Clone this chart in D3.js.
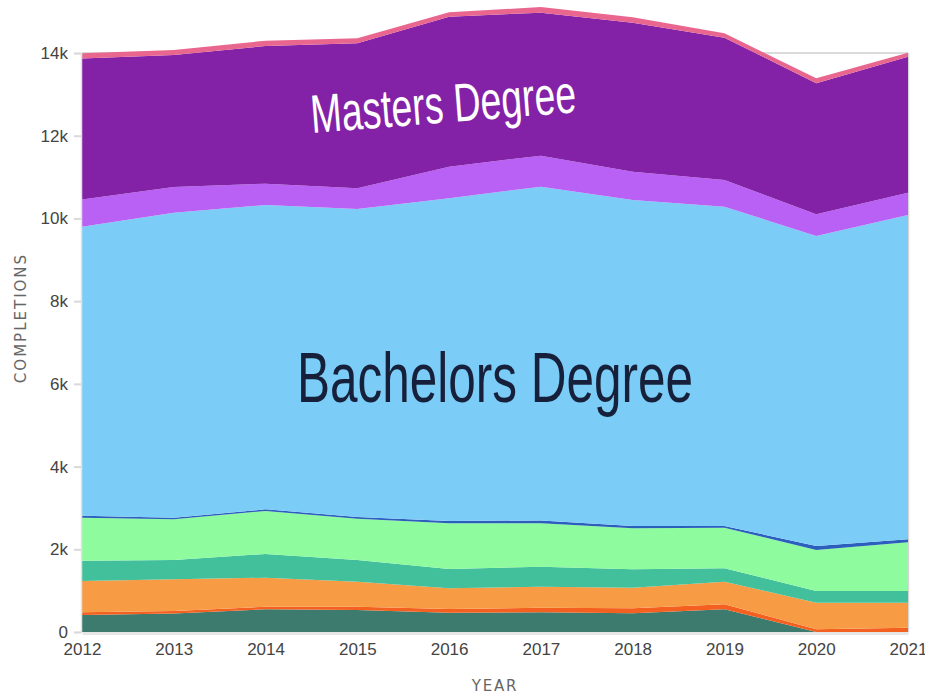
<!DOCTYPE html>
<html>
<head>
<meta charset="utf-8">
<script src="https://cdn.jsdelivr.net/npm/d3@7"></script>
<style>
  html, body { margin: 0; padding: 0; background: #fff; }
  svg { display: block; }
</style>
</head>
<body>
<svg id="chart" width="925" height="694"></svg>
<script>
const years = [2012, 2013, 2014, 2015, 2016, 2017, 2018, 2019, 2020, 2021];
const seriesNames = [
  "Certificate < 1 Year",
  "Certificate 1-2 Years",
  "Associates Degree",
  "Certificate 2-4 Years",
  "Postbaccalaureate Certificate",
  "Doctors Degree (Other)",
  "Bachelors Degree",
  "Post-masters Certificate",
  "Masters Degree",
  "Doctors Degree (Research)"
];
const certUnder1 =   [410, 450, 549, 532, 467, 475, 451, 549, 0, 0];
const cert1to2 =     [65, 58, 63, 80, 89, 113, 122, 120, 64, 105];
const associates =   [760, 766, 701, 605, 500, 508, 499, 548, 645, 604];
const cert2to4 =     [490, 467, 573, 524, 467, 484, 443, 323, 282, 282];
const postbacc =     [1040, 984, 1040, 999, 1105, 1048, 992, 983, 992, 1178];
const doctorOther =  [45, 40, 40, 40, 56, 70, 56, 40, 97, 72];
const bachelors =    [6990, 7375, 7359, 7448, 7802, 8070, 7883, 7722, 7495, 7842];
const postMasters =  [660, 620, 516, 500, 766, 750, 685, 645, 525, 540];
const masters =      [3410, 3190, 3330, 3506, 3626, 3458, 3602, 3441, 3167, 3288];
const doctorRes =    [125, 120, 127, 121, 105, 135, 130, 104, 121, 97];
const yTicks = [0, 2000, 4000, 6000, 8000, 10000, 12000, 14000];
const yTickLabels = ["0", "2k", "4k", "6k", "8k", "10k", "12k", "14k"];
const colors = ["#3e7b6f", "#f4601f", "#f79c45", "#42c09b", "#8efb9f",
                "#2b5fbe", "#7bcdf8", "#b861f4", "#8322a7", "#e9668f"];

const seriesValues = [certUnder1, cert1to2, associates, cert2to4, postbacc,
                      doctorOther, bachelors, postMasters, masters, doctorRes];

const table = years.map((yr, i) => {
  const row = { year: yr };
  seriesNames.forEach((n, j) => { row[n] = seriesValues[j][i]; });
  return row;
});

const svg = d3.select("#chart");
const margin = { left: 82, right: 17, top: 53, bottom: 62 };
const W = 925, H = 694;
const x = d3.scaleLinear().domain([2012, 2021]).range([margin.left, W - margin.right]);
const y = d3.scaleLinear().domain([0, 14000]).range([H - margin.bottom, margin.top]);

// frame lines
svg.append("line").attr("x1", x(2012)).attr("x2", x(2021)).attr("y1", y(14000)).attr("y2", y(14000))
  .attr("stroke", "#cfcfcf").attr("stroke-width", 1.5);
svg.append("line").attr("x1", x(2021) + 0.5).attr("x2", x(2021) + 0.5).attr("y1", y(14000)).attr("y2", y(0))
  .attr("stroke", "#d6d6d6").attr("stroke-width", 1.5);

const stack = d3.stack().keys(seriesNames);
const layers = stack(table);
const area = d3.area()
  .x(d => x(d.data.year))
  .y0(d => y(d[0]))
  .y1(d => y(d[1]))
  .curve(d3.curveLinear);

svg.append("g").selectAll("path").data(layers).join("path")
  .attr("d", area)
  .attr("fill", (d, i) => colors[i]);

// y axis
const yAxis = d3.axisLeft(y).tickValues(yTicks)
  .tickFormat((d, i) => yTickLabels[i]).tickSize(7).tickPadding(6);
const gy = svg.append("g").attr("transform", `translate(${margin.left - 1},0)`).call(yAxis);
gy.select(".domain").attr("stroke", "#e2e2e2").attr("stroke-width", 1.5);
gy.selectAll(".tick line").attr("stroke", "#d9d9d9").attr("stroke-width", 2);
gy.selectAll(".tick text").attr("fill", "#444").style("font-family", "'Liberation Sans', Arial, sans-serif")
  .style("font-size", "17px");

// x axis
const xAxis = d3.axisBottom(x).tickValues(years).tickFormat(d3.format("d")).tickSize(0).tickPadding(10);
const gx = svg.append("g").attr("transform", `translate(0,${y(0) + 1})`).call(xAxis);
gx.select(".domain").attr("stroke", "#e6e6e6").attr("stroke-width", 3);
gx.selectAll(".tick text").attr("fill", "#444").style("font-family", "'Liberation Sans', Arial, sans-serif")
  .style("font-size", "17px");

// axis titles
svg.append("text").attr("x", 495).attr("y", 691).attr("text-anchor", "middle")
  .style("font-family", "'DejaVu Sans', 'Liberation Sans', sans-serif").style("font-size", "15px")
  .style("letter-spacing", "1.8px").attr("fill", "#666").text("YEAR");
svg.append("text").attr("transform", "translate(26,318) rotate(-90)").attr("text-anchor", "middle")
  .style("font-family", "'DejaVu Sans', 'Liberation Sans', sans-serif").style("font-size", "15px")
  .style("letter-spacing", "2px").attr("fill", "#666").text("COMPLETIONS");

// in-chart labels
svg.append("text").attr("transform", "translate(312,133) rotate(-4.5)")
  .attr("textLength", 266).attr("lengthAdjust", "spacingAndGlyphs")
  .style("font-family", "'Liberation Sans Narrow', 'Liberation Sans', sans-serif").style("font-size", "54px")
  .attr("fill", "#ffffff").text("Masters Degree");
svg.append("text").attr("x", 297).attr("y", 402)
  .attr("textLength", 396).attr("lengthAdjust", "spacingAndGlyphs")
  .style("font-family", "'Liberation Sans Narrow', 'Liberation Sans', sans-serif").style("font-size", "70px")
  .attr("fill", "#17203a").text("Bachelors Degree");
</script>
</body>
</html>
